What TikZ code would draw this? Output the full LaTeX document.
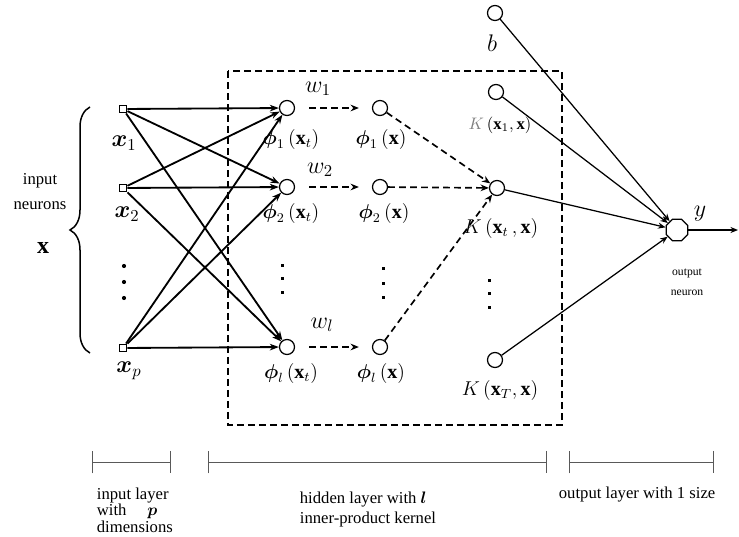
\documentclass[tikz,border=0pt]{standalone}
\usepackage{amsmath}
\usepackage{fontspec}
\setmainfont{Liberation Serif}
\usetikzlibrary{arrows.meta,shapes.geometric,decorations.pathreplacing}

\tikzset{
  neuron/.style={circle,draw,line width=0.75pt,minimum size=9pt,inner sep=0pt,fill=white},
  insq/.style={rectangle,draw,line width=0.75pt,minimum size=4.6pt,inner sep=0pt,fill=white},
  outneuron/.style={regular polygon,regular polygon sides=8,draw,line width=0.75pt,minimum size=14pt,inner sep=0pt,fill=white},
  wire/.style={black,line width=1.1pt,-{Stealth[length=5.5pt,width=4pt]}},
  dwire/.style={black,line width=1pt,dash pattern=on 4pt off 2.6pt,-{Stealth[length=5pt,width=4pt]}},
  owire/.style={black,line width=0.75pt,-{Stealth[length=4.5pt,width=3.6pt]}},
  scalebar/.style={gray!70!black,line width=0.6pt,{Bar[width=13.5pt]}-{Bar[width=13.5pt]}}
}

\begin{document}
\begin{tikzpicture}[x=0.6pt,y=-0.6pt]
\useasboundingbox (0,0) rectangle (739,537);

% hidden layer box
\draw[black,line width=1pt,dash pattern=on 4pt off 2.6pt] (228,71) rectangle (562,425);

% input neurons
\node[insq] (in1) at (123,109) {};
\node[insq] (in2) at (123,188) {};
\node[insq] (inp) at (123,348) {};

% hidden layer
\node[neuron] (ht1) at (287,108) {};
\node[neuron] (ht2) at (287,187) {};
\node[neuron] (htl) at (287,347) {};
\node[neuron] (h1) at (380,108) {};
\node[neuron] (h2) at (380,187) {};
\node[neuron] (hl) at (380,347) {};

\node[neuron] (bias) at (495,13) {};
\node[neuron] (k1) at (496,92) {};
\node[neuron] (kt) at (497,188) {};
\node[neuron] (kT) at (495,360) {};

% output
\node[outneuron] (out) at (677,230) {};
\coordinate (yend) at (738,230);

\draw[wire] (in1) -- (ht1);
\draw[wire] (in1) -- (ht2);
\draw[wire] (in1) -- (htl);
\draw[wire] (in2) -- (ht1);
\draw[wire] (in2) -- (ht2);
\draw[wire] (in2) -- (htl);
\draw[wire] (inp) -- (ht1);
\draw[wire] (inp) -- (ht2);
\draw[wire] (inp) -- (htl);

\draw[dwire,shorten <=8.4pt,shorten >=7.8pt] (ht1) -- (h1);
\draw[dwire,shorten <=8.4pt,shorten >=7.8pt] (ht2) -- (h2);
\draw[dwire,shorten <=8.4pt,shorten >=7.8pt] (htl) -- (hl);

\draw[dwire] (h1) -- (kt);
\draw[dwire] (h2) -- (kt);
\draw[dwire] (hl) -- (kt);

\draw[owire] (bias) -- (out);
\draw[owire] (k1) -- (out);
\draw[owire] (kt) -- (out);
\draw[owire] (kT) -- (out);
\draw[owire] (out) -- (yend);

% dots
\fill (124,266) circle (2.1);
\fill (124,282) circle (2.1);
\fill (124,298) circle (2.1);
\fill (281,263.5) rectangle (284,266.5);
\fill (281,276.5) rectangle (284,279.5);
\fill (281,290.5) rectangle (284,293.5);
\fill (381.5,266.5) rectangle (384.5,269.5);
\fill (381.5,281.5) rectangle (384.5,284.5);
\fill (381.5,295.5) rectangle (384.5,298.5);
\fill (487.5,278.5) rectangle (490.5,281.5);
\fill (487.5,291.5) rectangle (490.5,294.5);
\fill (487.5,305.5) rectangle (490.5,308.5);

% brace
\draw[decorate,decoration={brace,amplitude=12pt},line width=0.9pt] (90,353) -- (90,107);
\node[align=center] (inneur) at (40,192) {input\\[3pt]neurons};
\node (xvec) at (43,248) {\Large$\mathbf{x}$};

% labels
\node (lx1) at (124,143) {\Large$\boldsymbol{x}_1$};
\node (lx2) at (127,214) {\Large$\boldsymbol{x}_2$};
\node (lxp) at (129,371) {\Large$\boldsymbol{x}_p$};

\node (lht1) at (291,139) {\large$\boldsymbol{\phi}_1\left(\mathbf{x}_t\right)$};
\node (lht2) at (291,213) {\large$\boldsymbol{\phi}_2\left(\mathbf{x}_t\right)$};
\node (lhtl) at (291,373) {\large$\boldsymbol{\phi}_l\left(\mathbf{x}_t\right)$};
\node (lh1) at (381,139) {\large$\boldsymbol{\phi}_1\left(\mathbf{x}\right)$};
\node (lh2) at (384,213) {\large$\boldsymbol{\phi}_2\left(\mathbf{x}\right)$};
\node (lhl) at (381,373) {\large$\boldsymbol{\phi}_l\left(\mathbf{x}\right)$};

\node (lw1) at (318,89) {\Large$w_1$};
\node (lw2) at (320,170) {\Large$w_2$};
\node (lwl) at (322,325) {\Large$w_l$};

\node (lb) at (492,43) {\Large$b$};
\node (lk1) at (500,125) {$\textcolor{gray}{K}\left(\mathbf{x}_1,\mathbf{x}\right)$};
\node (lkt) at (501,228) {\large$K\left(\mathbf{x}_t\,,\mathbf{x}\right)$};
\node (lkT) at (500,390) {\large$K\left(\mathbf{x}_T,\mathbf{x}\right)$};

\node (ly) at (700,214) {\Large$y$};
\node[align=center,font=\scriptsize] (loutn) at (687,282) {output\\[4pt]neuron};

% layer scale
\coordinate (sb1a) at (92,462);
\coordinate (sb1b) at (171,462);
\coordinate (sb2a) at (208,462);
\coordinate (sb2b) at (547,462);
\coordinate (sb3a) at (569,462);
\coordinate (sb3b) at (714,462);
\draw[scalebar] (sb1a) -- (sb1b);
\draw[scalebar] (sb2a) -- (sb2b);
\draw[scalebar] (sb3a) -- (sb3b);

\node[align=left,anchor=west,font=\fontsize{10}{10}\selectfont] (linput) at (91,510) {input layer\\with \quad$\boldsymbol{p}$\\dimensions};
\node[align=left,anchor=west] (lhidden) at (294,509) {hidden layer with $\boldsymbol{l}$\\inner-product kernel};
\node[anchor=west] (loutput) at (553,495) {output layer with 1 size};

\end{tikzpicture}
\end{document}
